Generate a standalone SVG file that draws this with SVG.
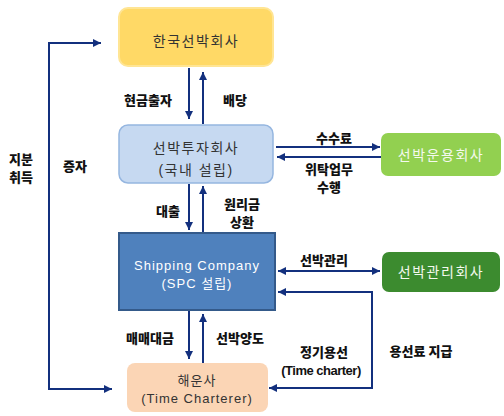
<svg xmlns="http://www.w3.org/2000/svg" width="504" height="416" viewBox="0 0 504 416">
<defs>
<marker id="ah" viewBox="0 0 10 10" refX="10" refY="5" markerWidth="4" markerHeight="4" orient="auto-start-reverse" markerUnits="strokeWidth">
<path d="M0,0 L10,5 L0,10 Z" fill="#13307e"/>
</marker>
<style>
.c{fill:none;stroke:#13307e;stroke-width:2}
.lb{font-family:"Noto Sans CJK KR","Liberation Sans",sans-serif;font-weight:900;font-size:13px;fill:#111;text-anchor:middle}
.nt{font-family:"Liberation Sans","Noto Sans CJK KR",sans-serif;font-size:14px;text-anchor:middle;letter-spacing:1.5px}
.ns{font-family:"Liberation Sans","Noto Sans CJK KR",sans-serif;font-size:13px;text-anchor:middle;letter-spacing:1px}
</style>
</defs>
<rect width="504" height="416" fill="#ffffff"/>
<g id="connectors">
<path class="c" d="M189,68 V119" marker-end="url(#ah)"/>
<path class="c" d="M203,124 V72" marker-end="url(#ah)"/>
<path class="c" d="M189,184 V230" marker-end="url(#ah)"/>
<path class="c" d="M203,232 V186" marker-end="url(#ah)"/>
<path class="c" d="M189,311 V359" marker-end="url(#ah)"/>
<path class="c" d="M203,363 V314" marker-end="url(#ah)"/>
<path class="c" d="M276,147 H380" marker-end="url(#ah)"/>
<path class="c" d="M381,157 H277" marker-end="url(#ah)"/>
<path class="c" d="M278,271 H380" marker-start="url(#ah)" marker-end="url(#ah)"/>
<path class="c" d="M278,292 H372 V388 H269" marker-start="url(#ah)" marker-end="url(#ah)"/>
<path class="c" d="M101,43 H49 V389 H112" marker-start="url(#ah)" marker-end="url(#ah)"/>
<text class="lb" x="148" y="105">현금출자</text>
<text class="lb" x="235" y="105">배당</text>
<text class="lb" x="334" y="143">수수료</text>
<text class="lb" x="329" y="174">위탁업무</text>
<text class="lb" x="329" y="192">수행</text>
<text class="lb" x="168" y="216">대출</text>
<text class="lb" x="242" y="209">원리금</text>
<text class="lb" x="242" y="227">상환</text>
<text class="lb" x="324" y="265">선박관리</text>
<text class="lb" x="150" y="343">매매대금</text>
<text class="lb" x="240" y="343">선박양도</text>
<text class="lb" x="324" y="357">정기용선</text>
<text class="lb" x="321" y="375" style="font-family:'Liberation Sans',sans-serif;font-weight:bold;letter-spacing:-0.5px">(Time charter)</text>
<text class="lb" x="421" y="356">용선료 지급</text>
<text class="lb" x="21" y="164">지분</text>
<text class="lb" x="21" y="182">취득</text>
<text class="lb" x="75" y="171">증자</text>
</g>
<g id="n1">
<rect x="119" y="8" width="154" height="58" rx="9" fill="#ffd966" stroke="#ffe594" stroke-width="2"/>
<text class="nt" x="196" y="46" fill="#333">한국선박회사</text>
</g>
<g id="n2">
<rect x="119" y="125" width="154" height="58" rx="9" fill="#c6d9f1" stroke="#95b6e0" stroke-width="1.5"/>
<text class="nt" x="196" y="153" fill="#333">선박투자회사</text>
<text class="nt" x="196" y="175" fill="#333">(국내 설립)</text>
</g>
<g id="n3">
<rect x="381" y="133" width="120" height="43" rx="7" fill="#92d050"/>
<text class="nt" x="441" y="160" fill="#f4f9ee">선박운용회사</text>
</g>
<g id="n4">
<rect x="119" y="233" width="156" height="77" fill="#4f81bd" stroke="#345a8a" stroke-width="2"/>
<text class="ns" x="197" y="270" fill="#ffffff">Shipping Company</text>
<text class="ns" x="197" y="288" fill="#ffffff">(SPC 설립)</text>
</g>
<g id="n5">
<rect x="382" y="252" width="118" height="40" rx="7" fill="#3c8b2f"/>
<text class="nt" x="441" y="277" fill="#f4f9ee">선박관리회사</text>
</g>
<g id="n6">
<rect x="127" y="363" width="141" height="49" rx="8" fill="#fbd5b5"/>
<text class="ns" x="197" y="385" fill="#333">해운사</text>
<text class="ns" x="197" y="403" fill="#333">(Time Charterer)</text>
</g>
</svg>
